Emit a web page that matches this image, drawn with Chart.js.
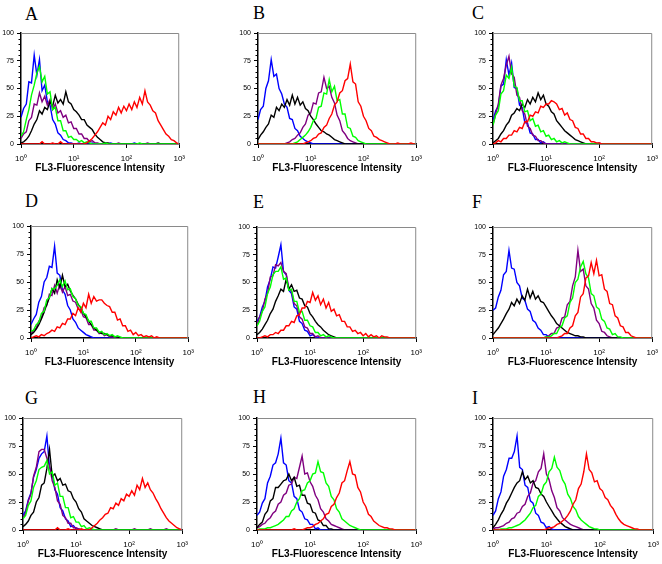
<!DOCTYPE html>
<html>
<head>
<meta charset="utf-8">
<script src="https://cdn.jsdelivr.net/npm/chart.js@4.4.1/dist/chart.umd.min.js"></script>
<style>
  body { margin: 0; background: #fff; }
  #page { position: relative; width: 662px; height: 564px; overflow: hidden; }
  .box { position: absolute; }
  .tag { position: absolute; font: 18px/18px "Liberation Serif", "Times New Roman", serif; color: #000; }
</style>
</head>
<body>
<div id="page"></div>
<script>
// histogram channels (FL3 intensity, log spaced)
var channels = [1,1.12,1.26,1.41,1.58,1.78,2,2.24,2.51,2.82,
  3.16,3.55,3.98,4.47,5.01,5.62,6.31,7.08,7.94,8.91,
  10,11.2,12.6,14.1,15.8,17.8,20,22.4,25.1,28.2,
  31.6,35.5,39.8,44.7,50.1,56.2,63.1,70.8,79.4,89.1,
  100,112,126,141,158,178,200,224,251,282,
  316,355,398,447,501,562,631,708,794,891,
  1000];

var xTicks = [1, 10, 100, 1000];
var xTickLabels = ['10\u2070', '10\u00b9', '10\u00b2', '10\u00b3'];
var yTicks = [0, 25, 50, 75, 100];
var xTitle = 'FL3-Fluorescence Intensity';

// panel A
var aBlue = [24,32,36,56,55,80,62,76,48,53, 38,35,22,18,10,8,4,3,1,1, 0,0,1,0,0,0,0,1,0,0, 0,0,0,0,1,0,0,0,0,0, 0,0,0,1,0,0,0,0,0,0, 0,0,0,0,0,0,0,0,0,0, 0];
var aBlack = [1,2,4,7,12,18,22,30,27,33, 31,38,34,44,37,40,36,47,38,36, 31,29,26,22,22,17,15,13,9,6, 4,2,1,1,0,0,0,0,0,0, 0,0,0,0,0,0,0,0,0,0, 0,0,1,0,0,0,0,0,0,0, 0];
var aPurple = [5,9,11,21,24,36,35,46,38,43, 35,40,31,36,28,30,24,26,19,20, 14,14,9,9,5,5,2,3,1,1, 0,0,0,0,0,0,0,1,0,0, 0,0,0,0,0,0,0,0,1,0, 0,0,0,0,0,0,0,0,0,0, 0];
var aGreen = [7,11,22,31,44,53,64,70,56,61, 45,47,31,33,21,21,12,12,6,7, 4,4,2,3,1,2,1,0,0,0, 0,0,1,0,0,0,0,0,0,0, 0,0,0,0,0,1,0,0,0,0, 0,0,0,0,0,0,0,0,0,0, 0];
var aRed = [0,0,0,0,0,0,0,0,2,0, 0,0,1,0,0,2,0,0,0,0, 0,0,0,0,0,1,3,5,8,11, 15,19,17,25,22,29,26,33,28,34, 30,36,31,38,33,42,36,48,38,35, 30,28,21,17,13,9,7,4,3,1, 0];

// panel B
var bBlue = [22,31,34,50,57,76,61,63,50,45, 36,33,23,22,14,12,7,5,3,2, 1,0,0,0,0,0,0,0,0,0, 0,0,0,0,0,0,0,0,0,0, 0,0,0,0,0,0,0,0,0,0, 0,0,0,0,0,0,0,0,0,0, 0];
var bBlack = [4,8,11,15,18,26,24,33,30,36, 33,40,35,44,36,42,35,38,32,30, 25,22,18,15,12,11,9,8,6,4, 3,2,1,0,0,0,0,0,0,0, 0,0,0,0,0,0,0,0,0,0, 0,0,0,0,0,0,0,0,0,0, 0];
var bPurple = [0,0,0,0,0,0,0,0,0,0, 0,1,2,4,5,8,10,15,18,26, 28,37,36,46,47,60,50,52,42,37, 26,21,12,9,5,3,2,1,0,0, 0,0,0,0,0,0,0,0,0,0, 0,0,0,0,0,0,0,0,0,0, 0];
var bGreen = [0,0,0,0,0,0,0,0,0,0, 0,0,0,0,1,2,4,6,8,11, 15,21,23,33,34,46,45,58,47,52, 39,40,27,27,15,14,7,6,3,2, 1,0,0,0,0,0,0,0,0,0, 0,0,0,0,0,0,0,0,0,0, 0];
var bRed = [0,0,0,0,0,0,0,0,0,0, 0,0,0,0,0,0,0,0,1,2, 3,5,6,9,10,15,17,23,27,35, 38,46,48,57,59,72,56,54,38,34, 25,21,14,12,7,6,4,3,2,1, 0,0,0,1,0,0,0,0,1,0, 0];

// panel C
var cBlue = [21,30,34,52,54,76,62,73,51,50, 35,33,19,19,10,9,4,4,1,2, 0,0,0,0,0,0,0,0,0,0, 0,0,0,0,0,0,0,0,0,0, 0,0,0,0,0,0,0,0,0,0, 0,0,0,0,0,0,0,0,0,0, 0];
var cBlack = [1,3,5,9,12,17,20,26,28,32, 30,36,33,40,36,42,38,46,40,44, 36,34,29,27,21,18,15,12,10,8, 6,4,3,2,1,0,0,0,0,0, 0,0,0,0,0,0,0,0,0,0, 0,0,0,0,0,0,0,0,0,0, 0];
var cPurple = [17,27,36,53,59,71,79,63,60,44, 42,30,27,16,14,8,7,3,3,1, 0,0,0,0,0,0,0,0,0,0, 0,0,0,0,0,0,0,0,0,0, 1,0,0,0,0,0,0,0,0,0, 0,0,0,0,0,0,0,0,0,0, 0];
var cGreen = [17,26,30,45,48,62,59,69,52,51, 39,39,29,30,21,23,16,17,11,12, 7,8,4,5,2,3,1,2,1,0, 0,0,0,0,0,0,0,0,0,0, 0,0,0,0,0,0,0,0,0,0, 0,0,0,0,0,0,0,0,0,0, 0];
var cRed = [0,1,3,2,5,5,8,8,12,11, 15,14,20,20,26,25,29,28,34,33, 36,36,39,38,36,31,32,26,28,22, 21,15,14,9,9,5,5,2,2,1, 1,0,0,0,0,0,0,0,0,0, 0,0,0,0,0,0,0,0,0,0, 0];

// panel D
var dBlue = [12,17,21,32,37,50,54,64,63,82, 58,56,43,39,29,25,17,14,9,7, 5,3,2,1,0,0,0,0,0,0, 0,0,0,0,0,0,0,0,0,0, 0,0,0,0,0,0,0,0,0,0, 0,0,0,0,0,0,0,0,0,0, 0];
var dBlack = [3,5,8,12,17,23,30,36,44,40, 52,45,56,46,48,42,38,35,30,27, 22,19,15,12,9,7,5,4,4,3, 2,2,1,1,0,0,0,0,0,0, 0,0,0,0,0,0,0,0,0,0, 0,0,0,0,0,0,0,0,0,0, 0];
var dPurple = [4,7,9,15,18,27,29,39,38,47, 40,48,41,46,38,39,33,32,26,25, 19,18,12,12,7,7,4,5,2,3, 1,1,0,0,0,0,0,0,0,0, 0,0,0,0,0,0,0,0,0,0, 0,0,0,0,0,0,0,0,0,0, 0];
var dGreen = [6,7,12,14,22,24,34,36,44,44, 47,52,46,51,43,44,37,35,29,28, 22,21,15,15,9,9,5,6,3,4, 2,3,1,2,1,0,0,0,0,0, 0,0,0,0,0,0,0,0,0,0, 0,0,0,0,0,0,0,0,0,0, 0];
var dRed = [0,1,2,1,3,2,4,5,7,6, 10,9,13,12,17,17,22,20,27,23, 31,27,39,31,37,33,34,34,31,29, 28,23,23,16,17,11,11,6,7,3, 5,2,3,1,2,1,2,0,1,0, 0,0,0,0,0,0,0,0,0,0, 0];

// panel E
var eBlue = [15,19,28,33,46,53,64,63,73,84, 60,57,43,40,28,26,15,13,7,6, 2,3,1,0,0,0,0,0,0,0, 0,0,0,0,0,0,0,0,0,0, 0,0,0,0,0,0,0,0,0,0, 0,0,0,0,0,0,0,0,0,0, 0];
var eBlack = [3,5,8,12,16,22,26,33,38,44, 42,53,44,48,42,43,36,35,29,28, 22,19,15,12,10,7,5,3,2,1, 0,0,0,0,0,0,0,0,0,0, 0,0,0,0,0,0,0,0,0,0, 0,0,0,0,0,0,0,0,0,0, 0];
var ePurple = [11,19,24,35,40,55,56,66,65,68, 60,58,45,42,31,29,19,17,10,9, 4,4,1,2,0,0,0,0,0,0, 0,0,0,0,0,0,0,0,0,0, 0,0,0,0,0,0,0,0,0,0, 0,0,0,0,0,0,0,0,0,0, 0];
var eGreen = [11,15,24,28,40,46,57,60,60,64, 53,54,43,44,33,33,23,24,16,16, 11,10,5,5,2,3,1,2,1,0, 0,0,0,0,0,0,0,0,0,0, 0,0,0,0,0,0,0,0,0,0, 0,0,0,0,0,0,0,0,0,0, 0];
var eRed = [0,0,1,2,1,3,3,5,4,7, 7,11,11,15,14,20,21,27,27,33, 32,41,34,38,30,35,27,32,24,26, 20,21,15,15,10,10,6,7,4,5, 2,4,1,3,1,2,0,2,1,1, 0,0,0,0,0,0,0,0,0,0, 0];

// panel F
var fBlue = [25,27,37,43,57,60,79,63,62,50, 47,36,34,26,24,16,14,9,7,3, 3,1,0,0,0,0,0,0,0,0, 0,0,0,0,0,0,0,0,0,0, 0,0,0,0,0,0,0,0,0,0, 0,0,0,0,0,0,0,0,0,0, 0];
var fBlack = [3,6,9,13,17,22,26,32,29,35, 31,38,34,44,36,42,35,38,33,32, 28,24,20,17,13,11,9,7,5,4, 3,2,2,1,1,0,0,0,0,0, 0,0,0,0,0,0,0,0,0,0, 0,0,0,0,0,0,0,0,0,0, 0];
var fPurple = [0,0,0,0,0,0,0,0,0,0, 0,0,0,0,0,0,0,0,0,0, 1,2,4,4,9,10,18,19,30,33, 47,55,79,60,62,47,44,31,27,16, 13,6,5,2,1,0,0,0,0,0, 0,0,0,0,0,0,0,0,0,0, 0];
var fGreen = [0,0,0,0,0,0,0,0,0,0, 0,0,0,0,0,0,0,0,0,0, 1,1,2,4,4,9,11,18,20,32, 36,50,53,64,69,58,54,40,38,28, 26,17,15,9,8,3,4,1,1,0, 0,0,0,0,0,0,0,0,0,0, 0];
var fRed = [0,0,0,0,0,0,0,0,0,0, 0,0,0,0,0,0,0,0,0,0, 0,0,0,0,0,1,2,4,4,9, 11,20,23,37,40,54,56,68,58,70, 56,57,44,42,31,30,20,18,11,10, 5,5,2,1,0,0,0,0,0,0, 0];

// panel G
var gBlue = [13,17,27,33,47,54,64,68,70,84, 56,50,36,32,20,17,10,8,3,4, 1,1,0,0,0,0,0,0,0,0, 0,0,0,0,0,0,0,0,0,0, 0,0,0,0,0,0,0,0,0,0, 0,0,0,0,0,0,0,0,0,0, 0];
var gBlack = [3,5,8,13,16,25,29,40,42,55, 72,48,50,44,46,40,41,35,34,28, 25,19,16,10,8,6,4,3,2,1, 0,0,0,0,0,0,0,0,0,0, 0,0,0,0,0,0,0,0,0,0, 0,0,0,0,0,0,0,0,0,0, 0];
var gPurple = [11,15,26,32,48,56,70,72,72,64, 57,44,38,26,23,13,11,6,6,2, 2,1,0,0,0,0,0,0,0,0, 0,0,0,0,0,1,0,0,0,0, 0,0,1,0,0,0,0,0,1,0, 0,0,0,0,1,0,0,0,0,0, 0];
var gGreen = [10,13,22,26,38,44,54,56,57,62, 50,52,40,42,30,30,20,20,11,12, 7,7,3,4,1,2,1,0,0,0, 0,0,0,0,0,0,0,0,0,0, 0,0,0,0,0,0,0,0,0,0, 0,0,0,0,0,0,0,0,0,0, 0];
var gRed = [0,0,0,0,0,0,0,0,0,0, 0,0,0,2,0,0,0,1,0,0, 0,0,1,0,0,0,2,4,6,9, 11,14,15,20,19,24,22,28,26,32, 30,35,31,40,36,46,38,42,36,33, 28,24,19,15,11,8,6,4,2,1, 0];

// panel H
var hBlue = [13,16,24,28,42,48,58,60,68,82, 60,58,44,42,30,28,18,16,10,9, 5,5,1,2,0,0,0,0,0,0, 0,0,0,0,0,0,0,0,0,0, 0,0,0,0,0,0,0,0,0,0, 0,0,0,0,0,0,0,0,0,0, 0];
var hBlack = [2,5,7,14,17,26,28,38,38,41, 44,45,50,44,47,39,40,31,31,24, 23,16,15,9,8,4,4,1,1,0, 0,0,0,0,0,0,0,0,0,0, 0,0,0,0,0,0,0,0,0,0, 0,0,0,0,0,0,0,0,0,0, 0];
var hPurple = [2,3,5,6,9,11,15,17,23,25, 31,33,40,41,47,46,56,66,50,51, 43,39,31,27,19,16,10,8,5,4, 3,2,1,0,0,0,0,0,0,0, 0,0,0,0,0,0,0,0,0,0, 0,0,0,0,0,0,0,0,0,0, 0];
var hGreen = [0,1,1,1,2,2,3,4,5,7, 9,12,12,17,19,25,28,35,36,42, 44,50,51,61,52,51,42,39,30,27, 19,16,10,8,6,4,3,2,1,0, 0,0,0,0,0,0,0,0,0,0, 0,0,0,0,0,0,0,0,0,0, 0];
var hRed = [0,0,0,0,0,0,0,0,0,0, 0,0,0,0,1,0,0,0,1,2, 2,3,5,6,8,10,14,15,21,23, 29,33,42,44,53,61,50,49,38,34, 25,21,14,12,8,6,4,3,2,2, 1,1,0,0,0,0,0,0,0,0, 0];

// panel I
var iBlue = [13,17,28,34,48,54,64,64,70,84, 56,54,40,38,26,24,15,13,7,6, 2,3,1,0,0,0,0,0,0,0, 0,0,0,0,0,0,0,0,0,0, 0,0,0,0,0,0,0,0,0,0, 0,0,0,0,0,0,0,0,0,0, 0];
var iBlack = [2,5,9,14,18,24,28,33,38,42, 44,52,45,48,42,44,38,37,32,30, 25,21,17,13,10,7,5,3,2,1, 0,0,0,0,0,0,0,0,0,0, 0,0,0,0,0,0,0,0,0,0, 0,0,0,0,0,0,0,0,0,0, 0];
var iPurple = [1,2,2,3,4,6,7,10,11,15, 16,21,23,30,33,42,44,52,55,68, 50,45,35,29,20,17,11,9,7,5, 4,3,2,1,0,0,0,0,0,0, 0,0,0,0,0,0,0,0,0,0, 0,0,0,0,0,0,0,0,0,0, 0];
var iGreen = [0,0,0,1,1,1,2,2,3,4, 5,7,9,12,15,20,22,30,32,40, 43,52,55,65,56,53,45,41,32,28, 21,18,12,9,7,5,3,2,1,1, 0,0,0,0,0,0,0,0,0,0, 0,0,0,0,0,0,0,0,0,0, 0];
var iRed = [0,0,0,0,0,0,0,0,0,0, 0,0,0,0,0,0,0,0,0,0, 1,2,2,3,5,6,8,10,13,17, 23,27,37,41,52,68,54,51,43,44, 37,35,29,27,22,19,14,10,7,5, 4,3,2,1,1,0,0,0,0,0, 0];

var panels = [
  { tag: 'A', red: aRed, green: aGreen, black: aBlack, purple: aPurple, blue: aBlue },
  { tag: 'B', red: bRed, green: bGreen, black: bBlack, purple: bPurple, blue: bBlue },
  { tag: 'C', red: cRed, green: cGreen, black: cBlack, purple: cPurple, blue: cBlue },
  { tag: 'D', red: dRed, green: dGreen, black: dBlack, purple: dPurple, blue: dBlue },
  { tag: 'E', red: eRed, green: eGreen, black: eBlack, purple: ePurple, blue: eBlue },
  { tag: 'F', red: fRed, green: fGreen, black: fBlack, purple: fPurple, blue: fBlue },
  { tag: 'G', red: gRed, green: gGreen, black: gBlack, purple: gPurple, blue: gBlue },
  { tag: 'H', red: hRed, green: hGreen, black: hBlack, purple: hPurple, blue: hBlue },
  { tag: 'I', red: iRed, green: iGreen, black: iBlack, purple: iPurple, blue: iBlue }
];

// plot area of each panel: left, top, width, height
var plotRects = [
  [21, 33, 162, 111], [258, 33, 162, 111], [493, 33, 163, 111],
  [31, 226, 161, 112], [257, 227, 163, 111], [493, 227, 163, 111],
  [23, 418, 163, 112], [257, 418, 163, 112], [493, 418, 164, 112]
];
var tagSpots = [
  [25, 5], [253, 4], [472, 4],
  [25, 192], [253, 193], [472, 193],
  [25, 389], [253, 388], [472, 389]
];

var colors = { red: '#ff0000', green: '#00ff00', black: '#000000', purple: '#800080', blue: '#0000ff' };
var drawOrder = ['red', 'green', 'black', 'purple', 'blue']; // first one ends up on top

var yAxisW = 24, xAxisH = 34, padT = 8, padR = 8;

Chart.defaults.font.family = '"Liberation Sans", Arial, sans-serif';
Chart.defaults.color = '#000';

// grey top/right frame plus minor ticks on the count axis
var framePlugin = {
  id: 'frame',
  afterDraw: function(chart) {
    var ctx = chart.ctx, a = chart.chartArea, y = chart.scales.y;
    ctx.save();
    ctx.strokeStyle = '#8a8a8a';
    ctx.lineWidth = 1;
    ctx.beginPath();
    ctx.moveTo(a.left, a.top + 0.5);
    ctx.lineTo(a.right - 0.5, a.top + 0.5);
    ctx.lineTo(a.right - 0.5, a.bottom);
    ctx.stroke();
    ctx.strokeStyle = '#000';
    ctx.beginPath();
    for (var v = 0; v <= 100; v += 5) {
      if (v % 25 === 0) continue;
      var py = Math.round(y.getPixelForValue(v)) + 0.5;
      ctx.moveTo(a.left - 2.5, py);
      ctx.lineTo(a.left, py);
    }
    ctx.stroke();
    ctx.restore();
  }
};

var page = document.getElementById('page');

panels.forEach(function(p, i) {
  var r = plotRects[i];
  var w = r[2] + yAxisW + padR, h = r[3] + padT + xAxisH;

  var tag = document.createElement('div');
  tag.className = 'tag';
  tag.style.left = tagSpots[i][0] + 'px';
  tag.style.top = tagSpots[i][1] + 'px';
  tag.textContent = p.tag;
  page.appendChild(tag);

  var box = document.createElement('div');
  box.className = 'box';
  box.style.left = (r[0] - yAxisW) + 'px';
  box.style.top = (r[1] - padT) + 'px';
  var cv = document.createElement('canvas');
  cv.width = w; cv.height = h;
  cv.style.width = w + 'px'; cv.style.height = h + 'px';
  box.appendChild(cv);
  page.appendChild(box);

  var datasets = drawOrder.map(function(c) {
    return {
      label: c,
      data: p[c].map(function(v, k) { return { x: channels[k], y: v }; }),
      borderColor: colors[c],
      borderWidth: 1.4,
      pointRadius: 0,
      tension: 0,
      fill: false
    };
  });

  new Chart(cv, {
    type: 'line',
    data: { datasets: datasets },
    plugins: [framePlugin],
    options: {
      responsive: false,
      animation: false,
      events: [],
      layout: { padding: { top: padT, right: padR, left: 0, bottom: 0 }, autoPadding: false },
      plugins: { legend: { display: false }, tooltip: { enabled: false } },
      scales: {
        x: {
          type: 'logarithmic',
          min: 1, max: 1000,
          afterFit: function(s) { s.height = xAxisH; },
          afterBuildTicks: function(s) { s.ticks = xTicks.map(function(v) { return { value: v }; }); },
          ticks: {
            autoSkip: false, maxRotation: 0, padding: 6,
            font: { size: 8 },
            callback: function(v, k) { return xTickLabels[k]; }
          },
          grid: { drawOnChartArea: false, tickLength: 4, color: '#000' },
          border: { color: '#000', width: 1.5 },
          title: {
            display: true, text: xTitle,
            font: { size: 10, weight: 'bold' },
            padding: { top: 0, bottom: 4 }
          }
        },
        y: {
          min: 0, max: 100,
          afterFit: function(s) { s.width = yAxisW; },
          afterBuildTicks: function(s) { s.ticks = yTicks.map(function(v) { return { value: v }; }); },
          ticks: { padding: 3, font: { size: 7 } },
          grid: { drawOnChartArea: false, tickLength: 4, color: '#000' },
          border: { color: '#000', width: 1.5 }
        }
      }
    }
  });
});
</script>
</body>
</html>
